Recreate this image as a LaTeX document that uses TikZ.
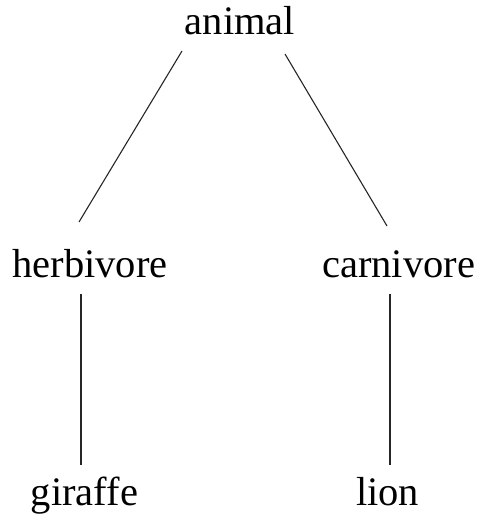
\documentclass[tikz,border=0pt]{standalone}
\usepackage{fontspec}
\setmainfont{Liberation Serif}
\begin{document}
\begin{tikzpicture}[x=1pt,y=-1pt,
  lbl/.style={anchor=base,inner sep=0pt,font=\fontsize{40.5}{48}\selectfont},
  edge/.style={line width=1.1pt,black!85}]
\useasboundingbox (0,0) rectangle (481,526);
\node[lbl] (animal) at (240,35) {animal};
\node[lbl] (herbivore) at (90,277) {herbivore};
\node[lbl] (carnivore) at (398.5,277) {carnivore};
\node[lbl] (giraffe) at (84.5,505) {giraffe};
\node[lbl] (lion) at (387.5,505) {lion};
\coordinate (a1) at (182,51);
\coordinate (h1) at (79,222);
\coordinate (a2) at (285,54);
\coordinate (c1) at (387,226);
\coordinate (h2) at (81,294);
\coordinate (g1) at (81,465);
\coordinate (c2) at (390,294);
\coordinate (l1) at (390,465);
\draw[edge] (a1) -- (h1);
\draw[edge] (a2) -- (c1);
\draw[edge] (h2) -- (g1);
\draw[edge] (c2) -- (l1);
\end{tikzpicture}
\end{document}
